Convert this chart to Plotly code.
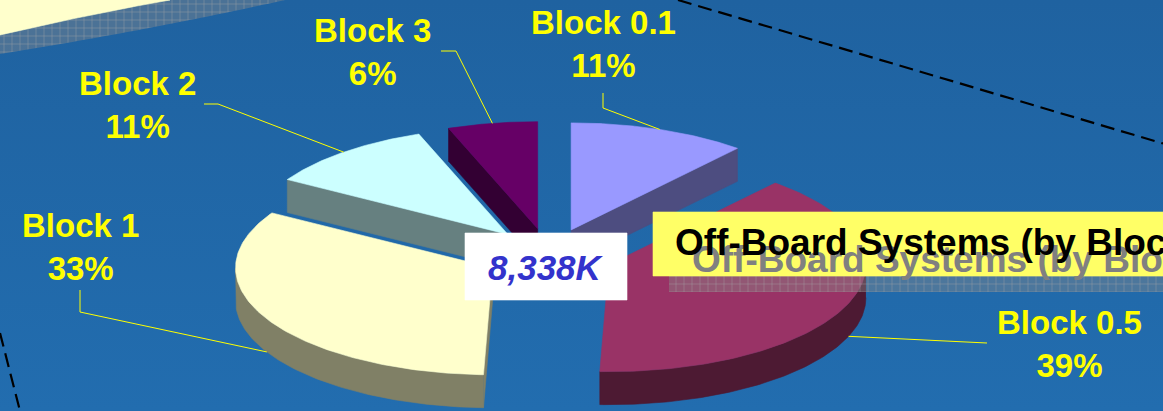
import numpy as np
import plotly.graph_objects as go

# ---------------- data ----------------
labels = ["Block 0.1", "Block 0.5", "Block 1", "Block 2", "Block 3"]
values_k = [934, 3282, 2752, 900, 470]          # thousands, total 8,338K
title_text = "Off-Board Systems (by Block)"

# ---------------- styles ----------------
top_colors = ["#9999FF", "#993366", "#FFFFCC", "#CCFFFF", "#660066"]
side_colors = ["#4D4D80", "#4D1A33", "#808066", "#668080", "#330033"]
LABEL_COLOR = "#FFFF00"
FONT = "Liberation Sans, Arial, sans-serif"

W, H = 1163, 411
CX, CY = 549, 255          # pie centre (pixel space)
RX, RY = 257, 107          # ellipse radii of the tilted pie
EXPLODE = 0.25             # explosion as fraction of radius
DEPTH = 33                 # pie thickness

label_pos = [(603, 44), (1069, 344), (80, 247), (137, 105), (372, 52)]
leader_elbows = [[(603, 93), (603, 108)], [(987, 343)], [(80, 290), (80, 312)],
                 [(204, 104), (218, 104)], [(441, 51), (456, 51)]]

total = sum(values_k)
total_text = f"{total:,}K"

fig = go.Figure()


def poly(xs, ys, color, **kw):
    fig.add_trace(go.Scatter(x=list(xs), y=list(ys), fill="toself", fillcolor=color,
                             mode="lines", line=dict(width=0.6, color=color),
                             hoverinfo="skip", showlegend=False, **kw))


def line(xs, ys, color, width=1, dash=None):
    fig.add_trace(go.Scatter(x=list(xs), y=list(ys), mode="lines",
                             line=dict(color=color, width=width, dash=dash),
                             hoverinfo="skip", showlegend=False))


def qbez(p0, p1, p2, n=50):
    t = np.linspace(0, 1, n)[:, None]
    p = (1 - t) ** 2 * np.array(p0) + 2 * (1 - t) * t * np.array(p1) + t ** 2 * np.array(p2)
    return p[:, 0], p[:, 1]


HATCH = dict(shape="+", size=8, solidity=0.1, fgcolor="rgba(165,165,165,0.9)",
             bgcolor="rgba(135,135,135,0.42)", fillmode="replace")

# background gradient
fig.add_trace(go.Scatter(x=[0, W, W, 0, 0], y=[0, 0, H, H, 0], fill="toself", mode="none",
                         fillgradient=dict(type="vertical", start=0, stop=H,
                                           colorscale=[[0, "#1F62A0"], [1, "#226DAF"]]),
                         hoverinfo="skip", showlegend=False))

# decorative ellipse top-left with hatched shadow
cx1, cy1 = qbez((170, 0), (90, 14), (0, 35))
sx1, sy1 = qbez((0, 54), (150, 30), (285, 0))
fig.add_trace(go.Scatter(x=list(cx1) + list(sx1) + [170], y=list(cy1) + list(sy1) + [0],
                         fill="toself", mode="none", fillpattern=HATCH,
                         hoverinfo="skip", showlegend=False))
poly([0] + list(cx1[::-1]) + [170, 0], [0] + list(cy1[::-1]) + [0, 0], "#FFFFCC")

# dashed lines
line([678, 1163], [0, 143.5], "#000000", width=2.2, dash="14px,7px")
line([0, 20], [333, 411], "#000000", width=2.2, dash="14px,7px")

# ---------------- 3D exploded pie ----------------
fr = np.array(values_k) / total
cum = np.concatenate([[0], np.cumsum(fr)]) * 2 * np.pi


def pt(ax, ay, th):
    return ax + RX * np.sin(th), ay - RY * np.cos(th)


slices = []
for i in range(len(values_k)):
    a1, a2 = cum[i], cum[i + 1]
    m = (a1 + a2) / 2
    ax = CX + EXPLODE * RX * np.sin(m)
    ay = CY - EXPLODE * RY * np.cos(m)
    slices.append((ay, i, a1, a2, m, ax))

for ay, i, a1, a2, m, ax in sorted(slices):
    for a, vis in ((a1, np.sin(a1) < -1e-6), (a2, np.sin(a2) > 1e-6)):
        if vis:
            ox, oy = pt(ax, ay, a)
            poly([ax, ox, ox, ax, ax], [ay, oy, oy + DEPTH, ay + DEPTH, ay], side_colors[i])
    lo, hi = max(a1, np.pi / 2), min(a2, 3 * np.pi / 2)
    if hi > lo:
        t = np.linspace(lo, hi, 100)
        xs, ys = pt(ax, ay, t)
        poly(np.concatenate([xs, xs[::-1]]), np.concatenate([ys, ys[::-1] + DEPTH]), side_colors[i])
    t = np.linspace(a1, a2, 140)
    xs, ys = pt(ax, ay, t)
    poly(np.concatenate([[ax], xs, [ax]]), np.concatenate([[ay], ys, [ay]]), top_colors[i])

# leader lines
for ay, i, a1, a2, m, ax in slices:
    ex, ey = pt(ax, ay, m)
    if np.cos(m) < 0:
        ey += DEPTH
    pts = leader_elbows[i] + [(ex, ey)]
    line([p[0] for p in pts], [p[1] for p in pts], LABEL_COLOR, width=1)

annotations = []
for i, lab in enumerate(labels):
    pct = round(fr[i] * 100)
    annotations.append(dict(x=label_pos[i][0], y=label_pos[i][1], xref="x", yref="y",
                            text=f"<b>{lab}<br>{pct}%</b>", showarrow=False,
                            xanchor="center", yanchor="middle", align="center",
                            font=dict(family=FONT, size=33, color=LABEL_COLOR)))

# total box
poly([465, 627, 627, 465, 465], [233, 233, 300, 300, 233], "#FFFFFF")
annotations.append(dict(x=546, y=267, xref="x", yref="y", text=f"<b><i>{total_text}</i></b>",
                        showarrow=False, xanchor="center", yanchor="middle",
                        font=dict(family=FONT, size=35, color="#3333CC")))

# title box with shadow
fig.add_trace(go.Scatter(x=[669, 1175, 1175, 669, 669], y=[276, 276, 292, 292, 276],
                         fill="toself", mode="none", fillpattern=HATCH,
                         hoverinfo="skip", showlegend=False))
poly([653, 1175, 1175, 653, 653], [212, 212, 276, 276, 212], "#FFFF66")
annotations.append(dict(x=690, y=259, xref="x", yref="y", text=f"<b>{title_text}</b>",
                        showarrow=False, xanchor="left", yanchor="middle",
                        font=dict(family=FONT, size=37, color="#808080")))
annotations.append(dict(x=673, y=242, xref="x", yref="y", text=f"<b>{title_text}</b>",
                        showarrow=False, xanchor="left", yanchor="middle",
                        font=dict(family=FONT, size=37, color="#000000")))

fig.update_layout(
    width=W, height=H, autosize=False,
    margin=dict(l=0, r=0, t=0, b=0, pad=0),
    paper_bgcolor="#216AAB", plot_bgcolor="#216AAB",
    xaxis=dict(range=[0, W], visible=False, fixedrange=True),
    yaxis=dict(range=[H, 0], visible=False, fixedrange=True),
    showlegend=False,
    annotations=annotations,
)

fig.write_html("out.html", config={"displayModeBar": False, "staticPlot": True},
               post_script="document.body.style.margin='0';document.body.style.overflow='hidden';")
